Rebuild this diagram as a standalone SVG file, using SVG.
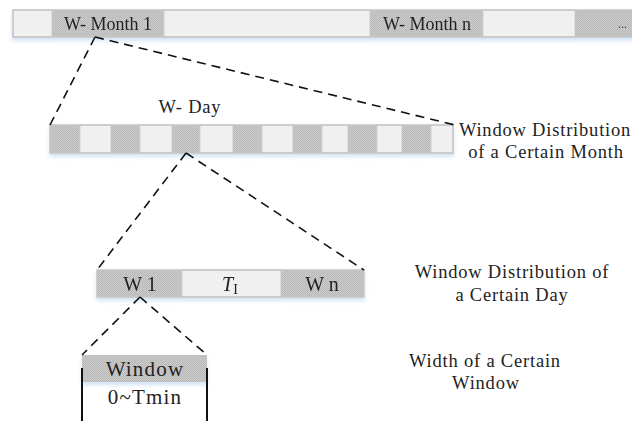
<svg xmlns="http://www.w3.org/2000/svg" width="632" height="421" viewBox="0 0 632 421">
<style>
  .lt { fill: #f0f0f0; stroke: #cfcfcf; stroke-width: 1; }
  .gy { fill: url(#stip); stroke: none; }
  .frame { fill: none; stroke: #c6c6c6; stroke-width: 1.5; }
  .t { font-family: "Liberation Serif", "Times New Roman", serif; font-size: 18px; fill: #222; }
  .lab { font-size: 18.5px; letter-spacing: 0.8px; }
  .c { text-anchor: middle; }
  .dash { fill: none; stroke: #111; stroke-width: 1.6; stroke-dasharray: 9 6; }
  .solid { fill: none; stroke: #111; stroke-width: 2; }
</style>
<defs>
  <pattern id="stip" width="2" height="2" patternUnits="userSpaceOnUse">
    <rect width="2" height="2" fill="#cacaca"/>
    <rect width="1" height="1" fill="#bababa"/>
    <rect x="1" y="1" width="1" height="1" fill="#bababa"/>
  </pattern>
  <filter id="glow" x="-5%" y="-30%" width="110%" height="180%">
    <feDropShadow dx="0" dy="3" stdDeviation="2.2" flood-color="#9cc2ea" flood-opacity="0.45"/>
  </filter>
</defs>
<rect width="632" height="421" fill="#ffffff"/>

<g id="month-bar" filter="url(#glow)">
  <rect class="lt" x="13" y="10" width="39" height="27"/>
  <rect class="gy" x="52" y="10" width="112" height="27"/>
  <rect class="lt" x="164" y="10" width="206" height="27"/>
  <rect class="gy" x="370" y="10" width="113" height="27"/>
  <rect class="lt" x="483" y="10" width="92" height="27"/>
  <rect class="gy" x="575" y="10" width="70" height="27"/>
  <rect class="frame" x="13" y="10" width="640" height="27"/>
  <text class="t c" x="108" y="30">W- Month 1</text>
  <text class="t c" x="427" y="30">W- Month n</text>
  <text class="t" x="618" y="28" style="font-size:12px;fill:#444">...</text>
</g>

<g id="day-bar" filter="url(#glow)">
  <rect class="gy" x="50" y="125" width="30" height="28"/>
  <rect class="lt" x="80" y="125" width="31" height="28"/>
  <rect class="gy" x="111" y="125" width="29" height="28"/>
  <rect class="lt" x="140" y="125" width="32" height="28"/>
  <rect class="gy" x="172" y="125" width="28" height="28"/>
  <rect class="lt" x="200" y="125" width="33" height="28"/>
  <rect class="gy" x="233" y="125" width="29" height="28"/>
  <rect class="lt" x="262" y="125" width="31" height="28"/>
  <rect class="gy" x="293" y="125" width="29" height="28"/>
  <rect class="lt" x="322" y="125" width="26" height="28"/>
  <rect class="gy" x="348" y="125" width="29" height="28"/>
  <rect class="lt" x="377" y="125" width="25" height="28"/>
  <rect class="gy" x="402" y="125" width="29" height="28"/>
  <rect class="lt" x="431" y="125" width="22" height="28"/>
  <rect class="frame" x="50" y="125" width="403" height="28"/>
</g>
<g id="w-day-label">
  <text class="t lab c" x="190" y="113">W- Day</text>
</g>
<g id="month-label">
  <text class="t lab c" x="545" y="136">Window Distribution</text>
  <text class="t lab c" x="546" y="158">of a Certain Month</text>
</g>

<g id="window-bar" filter="url(#glow)">
  <rect class="gy" x="97" y="270" width="85" height="27"/>
  <rect class="lt" x="182" y="270" width="99" height="27"/>
  <rect class="gy" x="281" y="270" width="83" height="27"/>
  <rect class="frame" x="97" y="270" width="267" height="27"/>
  <text class="t c" x="140" y="291" style="font-size:20px">W 1</text>
  <text class="t c" x="230" y="291" style="font-size:20px"><tspan font-style="italic">T</tspan><tspan font-size="14" dy="3">I</tspan></text>
  <text class="t c" x="322" y="291" style="font-size:20px">W n</text>
</g>
<g id="day-label">
  <text class="t lab c" x="512" y="278">Window Distribution of</text>
  <text class="t lab c" x="512" y="301">a Certain Day</text>
</g>

<g id="window-box">
  <rect class="gy" x="82" y="355" width="125" height="27" filter="url(#glow)"/>
  <text class="t c" x="145" y="376" style="font-size:21px;letter-spacing:1.2px">Window</text>
  <text class="t c" x="145" y="404" style="font-size:21px;letter-spacing:1.2px">0~Tmin</text>
  <line class="solid" x1="82" y1="368" x2="82" y2="421"/>
  <line class="solid" x1="207" y1="368" x2="207" y2="421"/>
</g>
<g id="width-label">
  <text class="t lab c" x="485" y="367">Width of a Certain</text>
  <text class="t lab c" x="486" y="389">Window</text>
</g>

<g id="connectors">
  <line class="dash" x1="95" y1="37" x2="50" y2="125"/>
  <line class="dash" x1="95" y1="37" x2="455" y2="125"/>
  <line class="dash" x1="186" y1="153" x2="97" y2="270"/>
  <line class="dash" x1="186" y1="153" x2="364" y2="270"/>
  <line class="dash" x1="140" y1="297" x2="82" y2="355"/>
  <line class="dash" x1="140" y1="297" x2="207" y2="355"/>
</g>
</svg>
